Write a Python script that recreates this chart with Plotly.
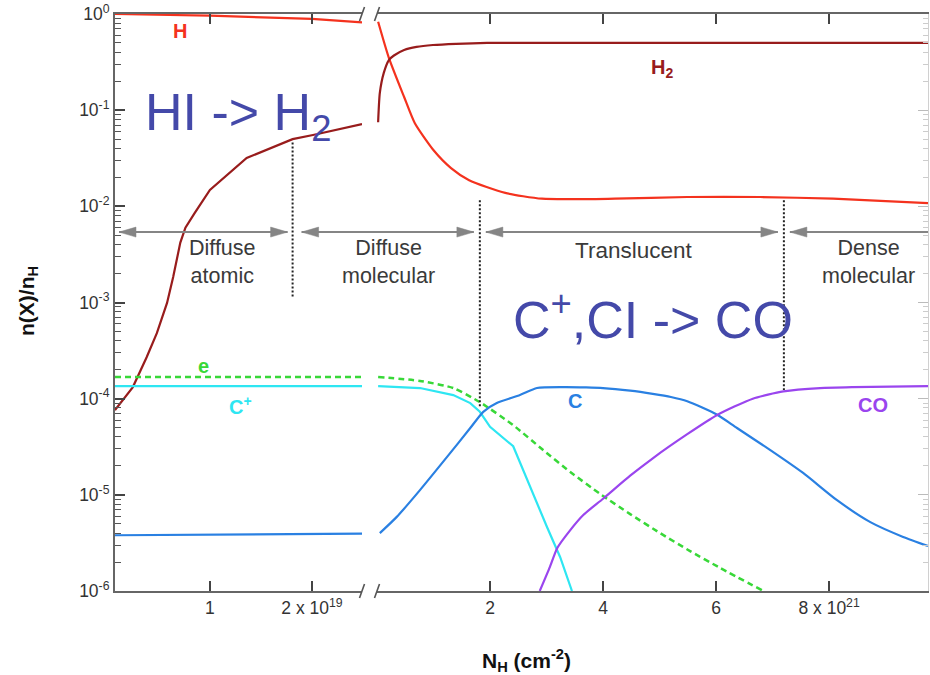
import math
import plotly.graph_objects as go

# ---------------- data ----------------
# Left panel: N_H in units of 1e19 cm^-2 ; right panel: N_H in units of 1e21 cm^-2
x_left_range = [0.07, 2.49]
x_right_range = [0.0, 9.75]

left_tick_vals = [1, 2]
left_tick_text = ["1", "2 x 10<sup>19</sup>"]
right_tick_vals = [2, 4, 6, 8]
right_tick_text = ["2", "4", "6", "8 x 10<sup>21</sup>"]
y_tick_exps = [-6, -5, -4, -3, -2, -1, 0]

# H (atomic hydrogen)
H_left_x = [0.07, 1.0, 2.0, 2.49]
H_left_y = [1.0, 0.96, 0.89, 0.82]
H_right_x = [0.02, 0.21, 0.48, 0.67, 0.99, 1.31, 1.63, 2.27, 2.92, 4.21, 5.49, 6.78, 8.07, 9.75]
H_right_y = [0.83, 0.35, 0.137, 0.073, 0.039, 0.025, 0.0187, 0.0138, 0.012, 0.012, 0.0125, 0.0125, 0.012, 0.0108]

# H2
H2_left_x = [0.07, 0.245, 0.38, 0.48, 0.58, 0.64, 0.71, 0.76, 0.85, 1.0, 1.36, 1.81, 2.01, 2.49]
H2_left_y = [7.6e-5, 1.32e-4, 2.7e-4, 4.8e-4, 9.9e-4, 1.84e-3, 4.2e-3, 6.0e-3, 8.5e-3, 0.0148, 0.0318, 0.050, 0.0552, 0.0718]
H2_right_x = [0.02, 0.05, 0.12, 0.21, 0.30, 0.48, 0.70, 0.99, 1.40, 1.95, 3.0, 9.75]
H2_right_y = [0.075, 0.151, 0.244, 0.332, 0.37, 0.422, 0.455, 0.476, 0.49, 0.50, 0.50, 0.50]

# electrons
e_left_x = [0.07, 2.49]
e_left_y = [1.68e-4, 1.68e-4]
e_right_x = [0.02, 0.76, 1.35, 1.82, 2.41, 2.94, 3.42, 3.95, 4.48, 5.01, 5.54, 6.07, 6.81]
e_right_y = [1.68e-4, 1.53e-4, 1.29e-4, 9.2e-5, 5.3e-5, 2.92e-5, 1.73e-5, 1.02e-5, 6.3e-6, 4.0e-6, 2.6e-6, 1.74e-6, 1.02e-6]

# C+
Cp_left_x = [0.07, 2.49]
Cp_left_y = [1.35e-4, 1.35e-4]
Cp_right_x = [0.02, 0.76, 1.35, 1.65, 1.82, 2.0, 2.41, 2.71, 3.01, 3.24, 3.45]
Cp_right_y = [1.35e-4, 1.29e-4, 1.09e-4, 9.0e-5, 7.3e-5, 5.1e-5, 3.2e-5, 1.2e-5, 4.6e-6, 2.26e-6, 1.0e-6]

# C
C_left_x = [0.07, 2.49]
C_left_y = [3.8e-6, 3.95e-6]
C_right_x = [0.05, 0.35, 0.76, 1.24, 1.65, 1.88, 2.12, 2.53, 2.83, 3.29, 3.7, 4.0, 4.48, 4.88, 5.2, 5.49,
             6.02, 6.37, 6.96, 7.54, 8.14, 8.73, 9.31, 9.75]
C_right_y = [4.0e-6, 5.9e-6, 1.12e-5, 2.48e-5, 4.95e-5, 7.3e-5, 9.0e-5, 1.09e-4, 1.29e-4, 1.32e-4, 1.31e-4,
             1.29e-4, 1.21e-4, 1.12e-4, 1.04e-4, 9.4e-5, 6.8e-5, 4.95e-5, 2.92e-5, 1.69e-5, 8.8e-6, 5.2e-6,
             3.65e-6, 2.94e-6]

# CO
CO_right_x = [2.88, 3.06, 3.19, 3.42, 3.65, 4.0, 4.48, 4.88, 5.49, 6.02, 6.65, 7.19, 7.84, 8.42, 9.75]
CO_right_y = [1.0e-6, 1.78e-6, 2.8e-6, 4.3e-6, 6.17e-6, 9.1e-6, 1.58e-5, 2.4e-5, 4.27e-5, 6.76e-5, 1.0e-4,
              1.19e-4, 1.29e-4, 1.32e-4, 1.35e-4]

# region boundaries (dotted lines)
bound_left_x = 1.81
bound_left_y = [0.046, 1.14e-3]
bound_right_x = [1.82, 7.2]
bound_right_y = [[0.0116, 8.2e-5], [0.0116, 1.23e-4]]
arrow_level = 5.4e-3

# ---------------- styling ----------------
W, Hh = 930, 675
PL, PR, PT, PB = 115, 928, 14, 591      # plot-area pixel box
BREAK_L, BREAK_R = 362, 377

def px(p):
    return (p - PL) / (PR - PL)

def py(p):
    return (PB - p) / (PB - PT)

dom_left = [0.0, px(BREAK_L)]
dom_right = [px(BREAK_R), 1.0]

def xl_paper(v):
    return dom_left[0] + (v - x_left_range[0]) / (x_left_range[1] - x_left_range[0]) * (dom_left[1] - dom_left[0])

def xr_paper(v):
    return dom_right[0] + (v - x_right_range[0]) / (x_right_range[1] - x_right_range[0]) * (dom_right[1] - dom_right[0])

def y_paper(v):
    return (math.log10(v) + 6) / 6

DX = 1.0 / (PR - PL)
DY = 1.0 / (PB - PT)

RED = "#f4321e"
DARKRED = "#981c1c"
GREEN = "#38d838"
CYAN = "#2ee6f2"
BLUE = "#2a80e2"
PURPLE = "#9a45ee"
BIG = "#4449a9"
FONT = "Liberation Sans, Arial, Helvetica, sans-serif"

fig = go.Figure()

def add(x, y, color, side, dash=None, shape="spline", width=2.2):
    xa, ya = ("x", "y") if side == "L" else ("x2", "y2")
    fig.add_trace(go.Scatter(x=x, y=y, mode="lines", xaxis=xa, yaxis=ya, showlegend=False,
                             line=dict(color=color, width=width, dash=dash, shape=shape,
                                       smoothing=0.6 if shape == "spline" else None),
                             hoverinfo="skip"))

add(H_left_x, H_left_y, RED, "L", shape="linear")
add(H_right_x, H_right_y, RED, "R")
add(H2_left_x, H2_left_y, DARKRED, "L", shape="linear")
add(H2_right_x, H2_right_y, DARKRED, "R")
add(e_left_x, e_left_y, GREEN, "L", dash="6px,4px", width=2.5)
add(e_right_x, e_right_y, GREEN, "R", dash="6px,4px", width=2.5)
add(Cp_left_x, Cp_left_y, CYAN, "L", shape="linear")
add(Cp_right_x, Cp_right_y, CYAN, "R", shape="linear")
add(C_left_x, C_left_y, BLUE, "L", shape="linear")
add(C_right_x, C_right_y, BLUE, "R")
add(CO_right_x, CO_right_y, PURPLE, "R")

# dotted boundaries
add([bound_left_x, bound_left_x], bound_left_y, "#222", "L", dash="2px,2px", shape="linear", width=2)
for bx, by in zip(bound_right_x, bound_right_y):
    add([bx, bx], by, "#222", "R", dash="2px,2px", shape="linear", width=2)

axis_common = dict(showgrid=False, zeroline=False, showline=True, linecolor="#666", linewidth=2,
                   ticks="inside", ticklen=10, tickwidth=1.5, tickcolor="#444",
                   tickfont=dict(family=FONT, size=17.5, color="#333"))

minor_vals = [k * 10 ** e for e in range(-6, 0) for k in range(2, 10)]

fig.update_layout(
    width=W, height=Hh,
    margin=dict(l=PL, r=W - PR, t=PT, b=Hh - PB),
    paper_bgcolor="white", plot_bgcolor="white",
    font=dict(family=FONT),
    xaxis=dict(domain=dom_left, range=x_left_range, anchor="y", tickmode="array",
               tickvals=left_tick_vals, ticktext=left_tick_text, mirror="ticks", **axis_common),
    xaxis2=dict(domain=dom_right, range=x_right_range, anchor="y2", tickmode="array",
                tickvals=right_tick_vals, ticktext=right_tick_text, mirror="ticks", **axis_common),
    yaxis=dict(type="log", range=[-6, 0], anchor="x", side="left", tickmode="array",
               tickvals=[10 ** e for e in y_tick_exps],
               ticktext=["10<sup>%d</sup>" % e for e in y_tick_exps],
               minor=dict(tickmode="array", tickvals=minor_vals, ticks="inside", ticklen=6,
                          tickcolor="#555", tickwidth=1),
               **axis_common),
    yaxis2=dict(type="log", range=[-6, 0], anchor="x2", side="right", matches="y",
                showticklabels=False, showgrid=False, zeroline=False, showline=True,
                linecolor="#d0d0d0", linewidth=1, ticks="inside", ticklen=10, tickcolor="#bbb",
                tickmode="array", tickvals=[10 ** e for e in y_tick_exps],
                minor=dict(tickmode="array", tickvals=minor_vals, ticks="inside", ticklen=5,
                           tickcolor="#ccc", tickwidth=1)),
)

shapes = []
# axis break marks
for bxp in (BREAK_L, BREAK_R):
    for yb in (PB, PT):
        shapes.append(dict(type="line", xref="paper", yref="paper",
                           x0=px(bxp - 2.5), y0=py(yb + 7), x1=px(bxp + 2.5), y1=py(yb - 7),
                           line=dict(color="#555", width=1.6)))

ay = y_paper(arrow_level)
ARROW = "#858585"

def arrow(x0, x1, head_left=True, head_right=True):
    shapes.append(dict(type="line", xref="paper", yref="paper", x0=x0, x1=x1, y0=ay, y1=ay,
                       line=dict(color=ARROW, width=2)))
    hl, hw = 17 * DX, 5 * DY
    if head_left:
        shapes.append(dict(type="path", xref="paper", yref="paper",
                           path="M %f,%f L %f,%f L %f,%f Z" % (x0, ay, x0 + hl, ay + hw, x0 + hl, ay - hw),
                           fillcolor=ARROW, line=dict(color=ARROW, width=0.5)))
    if head_right:
        shapes.append(dict(type="path", xref="paper", yref="paper",
                           path="M %f,%f L %f,%f L %f,%f Z" % (x1, ay, x1 - hl, ay + hw, x1 - hl, ay - hw),
                           fillcolor=ARROW, line=dict(color=ARROW, width=0.5)))

bl = xl_paper(bound_left_x)
br1 = xr_paper(bound_right_x[0])
br2 = xr_paper(bound_right_x[1])
arrow(xl_paper(x_left_range[0]) + 4 * DX, bl - 5 * DX)
arrow(bl + 9 * DX, br1 - 6 * DX)
arrow(br1 + 6 * DX, br2 - 6 * DX)
arrow(br2 + 6 * DX, 1.0, head_right=False)
fig.update_layout(shapes=shapes)

ann = []

def text(xp, yp, s, size, color, bold=False, xanchor="center", angle=0):
    ann.append(dict(x=px(xp), y=py(yp), xref="paper", yref="paper", text=("<b>%s</b>" % s) if bold else s,
                    showarrow=False, xanchor=xanchor, yanchor="middle", textangle=angle,
                    font=dict(family=FONT, size=size, color=color)))

REG = "#3a3a3a"
RS = 21.5
text(222, 262, "Diffuse<br>atomic", RS, REG)
text(388, 262, "Diffuse<br>molecular", RS, REG)
text(633, 250, "Translucent", 22.5, REG)
text(868, 262, "Dense<br>molecular", RS, REG)

LS = 20
text(180, 31, "H", LS, RED, bold=True)
text(662, 69, "H<sub>2</sub>", LS, DARKRED, bold=True)
text(203, 366, "e", LS, GREEN, bold=True)
text(240, 405, "C<sup>+</sup>", LS, CYAN, bold=True)
text(575, 401, "C", LS, BLUE, bold=True)
text(873, 405, "CO", LS, PURPLE, bold=True)

text(143, 116, "HI -&gt; H<sub>2</sub>", 52, BIG, xanchor="left")
text(511, 316, "C<sup>+</sup>,CI -&gt; CO", 52, BIG, xanchor="left")

text(526, 660, "N<sub>H</sub> (cm<sup>-2</sup>)", 21, "#111", bold=True)
text(28, 301, "n(X)/n<sub>H</sub>", 21, "#111", bold=True, angle=-90)

fig.update_layout(annotations=ann)

fig.write_html("out.html", config={"displayModeBar": False},
               post_script="document.body.style.margin='0px';document.body.style.padding='0px';")
